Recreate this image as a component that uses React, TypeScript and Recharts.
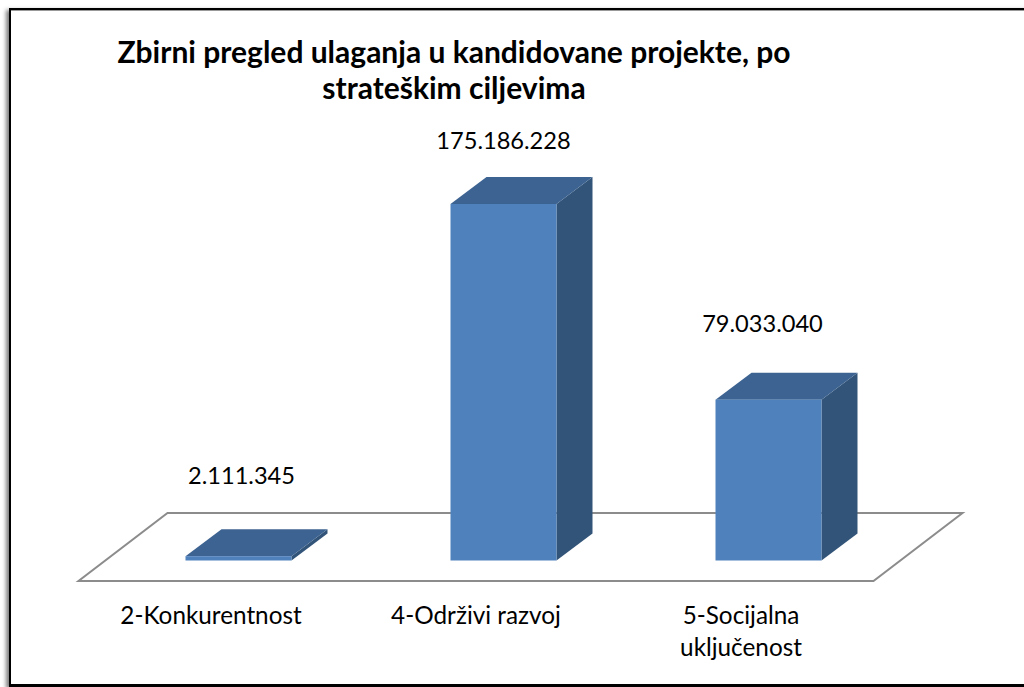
import React from 'react';
import { BarChart, Bar, XAxis, YAxis, LabelList, usePlotArea } from 'recharts';

const categories = ['2-Konkurentnost', '4-Održivi razvoj', '5-Socijalna uključenost'];
const values = [2111345, 175186228, 79033040];

const data = categories.map((name, i) => ({ name, value: values[i] }));

const FONT = 'Lato, "Open Sans", sans-serif';

// fake 3D depth for the boxes and the floor under them
const DEPTH_X = 36;
const DEPTH_Y = 27;
const FLOOR_SHIFT_X = 27;
const FLOOR_FRONT = 20.5;
const FLOOR_BACK = 47.5;

// manual nudges of the value labels (dx, dy from the top of the box)
const labelNudges = [
  [3, -81],
  [0, -64],
  [-6, -77],
];

const Floor = () => {
  const plot = usePlotArea();
  if (!plot) return null;
  const bottom = plot.y + plot.height;
  const left = plot.x - FLOOR_SHIFT_X;
  const right = left + plot.width;
  const skew = 89;
  const points = [
    [left, bottom + FLOOR_FRONT],
    [right, bottom + FLOOR_FRONT],
    [right + skew, bottom - FLOOR_BACK],
    [left + skew, bottom - FLOOR_BACK],
  ]
    .map((p) => p.join(','))
    .join(' ');
  return (
    <polygon
      points={points}
      fill="#ffffff"
      stroke="#8c8c8c"
      strokeWidth={2}
      strokeLinejoin="miter"
    />
  );
};

const Box = (props: any) => {
  const { x, y, width, height } = props;
  const r = x + width;
  const b = y + height;
  return (
    <g>
      <polygon
        points={`${r},${y} ${r + DEPTH_X},${y - DEPTH_Y} ${r + DEPTH_X},${b - DEPTH_Y} ${r},${b}`}
        fill="#325479"
      />
      <polygon
        points={`${x},${y} ${x + DEPTH_X},${y - DEPTH_Y} ${r + DEPTH_X},${y - DEPTH_Y} ${r},${y}`}
        fill="#3c6391"
      />
      <rect x={x} y={y} width={width} height={height} fill="#4f81bd" />
    </g>
  );
};

const CategoryTick = (props: any) => {
  const { x, y, payload } = props;
  const label: string = payload.value;
  // only the long name goes on two lines
  const cut = label.lastIndexOf(' ');
  const lines = label.length > 18 ? [label.slice(0, cut), label.slice(cut + 1)] : [label];
  const cx = x - FLOOR_SHIFT_X;
  return (
    <text x={cx} y={y + 55} textAnchor="middle" fontFamily={FONT} fontSize={24.3} fill="#000000">
      {lines.map((line, i) => (
        <tspan key={line} x={cx} dy={i === 0 ? 0 : 32}>
          {line}
        </tspan>
      ))}
    </text>
  );
};

const ValueLabel = (props: any) => {
  const { x, y, width, index, value } = props;
  const [dx, dy] = labelNudges[index];
  return (
    <text
      x={x + width / 2 + dx}
      y={y + dy}
      textAnchor="middle"
      dominantBaseline="central"
      fontFamily={FONT}
      fontSize={23.6}
      fill="#000000"
    >
      {Number(value).toLocaleString('de-DE')}
    </text>
  );
};

export default function App() {
  return (
    <div style={{ position: 'absolute', left: 0, top: 0, width: 1024, height: 687, overflow: 'hidden', background: '#fff' }}>
      <div
        style={{
          position: 'absolute',
          left: 9,
          top: 8,
          width: 1100,
          height: 674,
          borderTop: '2px solid #000',
          borderLeft: '2px solid #000',
          borderBottom: '3px solid #000',
          boxShadow: '-3px 2px 4px rgba(0,0,0,0.5), inset 0 1px 0 #999',
        }}
      />
      <div style={{ position: 'absolute', left: 0, top: 0 }}>
        <BarChart
          width={1024}
          height={687}
          data={data}
          margin={{ top: 153.5, right: 123.5, bottom: 66.5, left: 105.5 }}
        >
          <Floor />
          <XAxis dataKey="name" axisLine={false} tickLine={false} height={60} interval={0} tick={<CategoryTick />} />
          <YAxis hide domain={[0, 200000000]} />
          <Bar dataKey="value" barSize={106} shape={<Box />} isAnimationActive={false}>
            <LabelList dataKey="value" content={<ValueLabel />} />
          </Bar>
          <text x={454} y={51} textAnchor="middle" dominantBaseline="central" fontFamily={FONT} fontSize={30} fontWeight={700} fill="#000">
            Zbirni pregled ulaganja u kandidovane projekte, po
          </text>
          <text x={454} y={87} textAnchor="middle" dominantBaseline="central" fontFamily={FONT} fontSize={30} fontWeight={700} fill="#000">
            strateškim ciljevima
          </text>
        </BarChart>
      </div>
    </div>
  );
}
